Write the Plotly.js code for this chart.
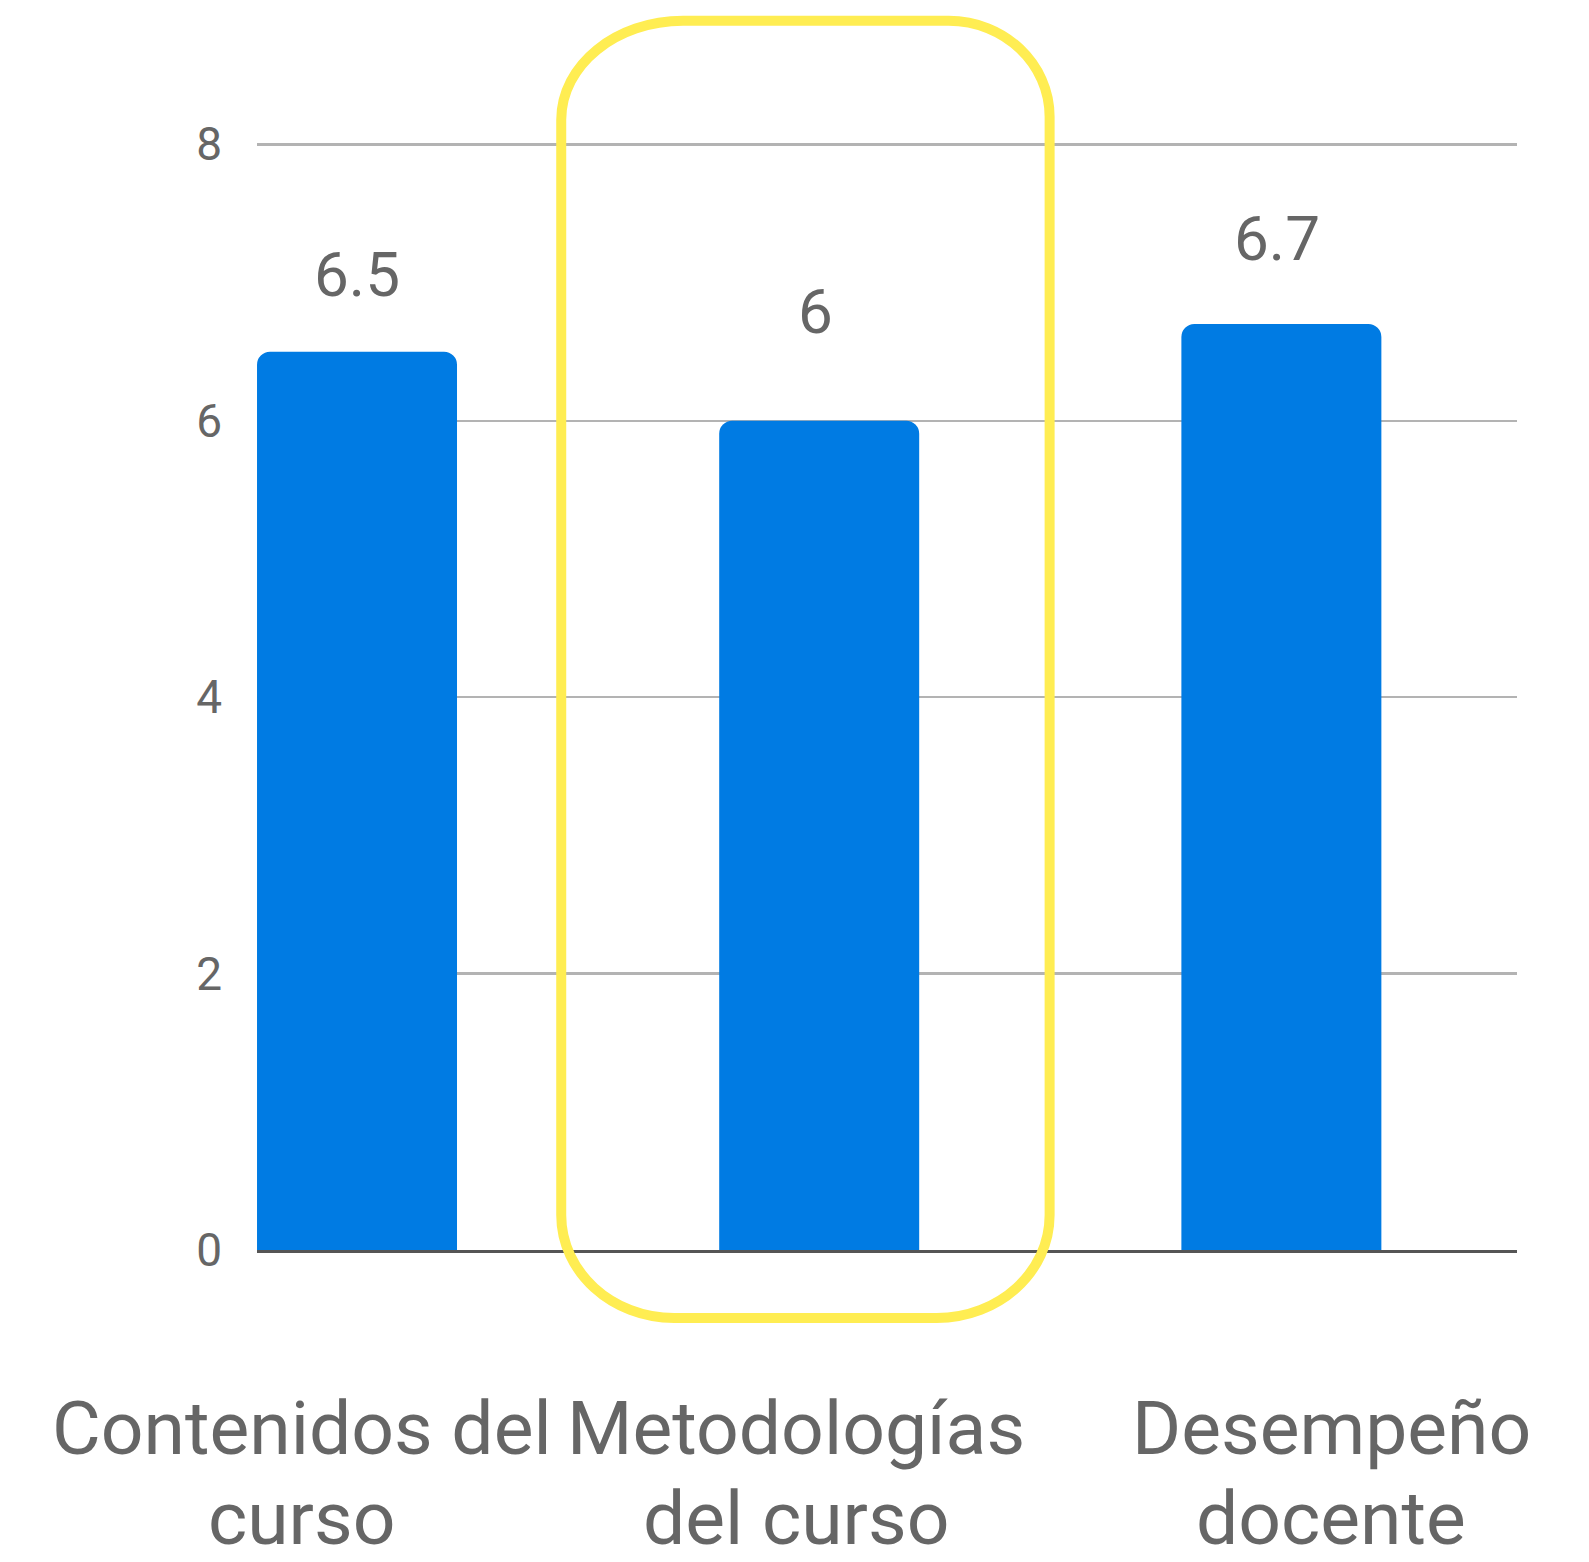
<!DOCTYPE html>
<html>
<head>
<meta charset="utf-8">
<script src="https://cdn.plot.ly/plotly-3.0.1.min.js"></script>
<style>
  html, body { margin: 0; padding: 0; background: #ffffff; }
  #chart { width: 1589px; height: 1562px; }
</style>
</head>
<body>
<div id="chart"></div>
<script>
// Survey scores by evaluated aspect
const categories = ["Contenidos del curso", "Metodologías del curso", "Desempeño docente"];
const categoryLines = [["Contenidos del", "curso"], ["Metodologías", "del curso"], ["Desempeño", "docente"]];
const scores = [6.5, 6, 6.7];
const valueLabels = ["6.5", "6", "6.7"];
const yTicks = [0, 2, 4, 6, 8];

// Layout geometry (pixels)
const W = 1589, H = 1562;
const M = { l: 256.7, r: 72, t: 142.9, b: 312 };
const plotW = W - M.l - M.r;
const plotH = H - M.t - M.b;

const labelShiftY = [39, 71, 47];
const labelShiftX = [0, -4, -4];
const categoryShiftX = [-55, -23, 50];
const categoryLineTop = -133;
const categoryLineStep = 90;

const textColor = "#666666";
const fontFamily = "Roboto, 'Open Sans', sans-serif";

// pixel -> paper helpers for the highlight outline
const px = x => (x - M.l) / plotW;
const py = y => (H - M.b - y) / plotH;

function roundedOutline(L, R, T, B, tl, tr, br, bl) {
  const k = 0.5523;
  const P = (x, y) => px(x).toFixed(5) + "," + py(y).toFixed(5);
  return [
    "M" + P(L, T + tl[1]),
    "C" + P(L, T + tl[1] - k * tl[1]) + " " + P(L + tl[0] - k * tl[0], T) + " " + P(L + tl[0], T),
    "L" + P(R - tr[0], T),
    "C" + P(R - tr[0] + k * tr[0], T) + " " + P(R, T + tr[1] - k * tr[1]) + " " + P(R, T + tr[1]),
    "L" + P(R, B - br[1]),
    "C" + P(R, B - br[1] + k * br[1]) + " " + P(R - br[0] + k * br[0], B) + " " + P(R - br[0], B),
    "L" + P(L + bl[0], B),
    "C" + P(L + bl[0] - k * bl[0], B) + " " + P(L, B - bl[1] + k * bl[1]) + " " + P(L, B - bl[1]),
    "Z"
  ].join(" ");
}

const trace = {
  type: "bar",
  x: categories,
  y: scores,
  width: 0.4327,
  marker: { color: "#007be3", cornerradius: 13, line: { width: 0 } },
  hoverinfo: "skip"
};

const annotations = [];
categories.forEach((c, i) => {
  annotations.push({
    xref: "x", yref: "y",
    x: c, y: scores[i],
    text: valueLabels[i],
    showarrow: false,
    xanchor: "center", yanchor: "bottom",
    xshift: labelShiftX[i],
    yshift: labelShiftY[i],
    font: { family: fontFamily, size: 62, color: textColor }
  });
  // category name, one annotation per line
  categoryLines[i].forEach((line, j) => {
    annotations.push({
      xref: "x", yref: "paper",
      x: c, y: 0,
      text: line,
      showarrow: false,
      xanchor: "center", yanchor: "top", align: "center",
      xshift: categoryShiftX[i],
      yshift: categoryLineTop - j * categoryLineStep,
      borderpad: 0,
      font: { family: fontFamily, size: 75, color: textColor }
    });
  });
});

const layout = {
  width: W, height: H,
  margin: M,
  paper_bgcolor: "#ffffff",
  plot_bgcolor: "#ffffff",
  showlegend: false,
  xaxis: {
    type: "category",
    range: [-0.2164, 2.5098],
    showticklabels: false,
    showgrid: false,
    zeroline: false,
    showline: true,
    linecolor: "#555555",
    linewidth: 3,
    ticks: "",
    fixedrange: true
  },
  yaxis: {
    range: [0, 8.01],
    tickvals: yTicks,
    ticktext: yTicks.map(String),
    showgrid: true,
    gridcolor: "#b3b3b3",
    gridwidth: 2.5,
    zeroline: false,
    showline: false,
    ticks: "",
    ticklabelstandoff: 34,
    tickfont: { family: fontFamily, size: 46, color: textColor },
    fixedrange: true
  },
  annotations: annotations,
  shapes: [{
    type: "path",
    xref: "paper", yref: "paper",
    path: roundedOutline(561, 1049.5, 20.7, 1318, [122, 99], [101, 96], [113, 103], [113, 103]),
    line: { color: "#ffed52", width: 10 },
    fillcolor: "rgba(0,0,0,0)",
    layer: "above"
  }]
};

Plotly.newPlot("chart", [trace], layout, { displayModeBar: false, staticPlot: true });
</script>
</body>
</html>
